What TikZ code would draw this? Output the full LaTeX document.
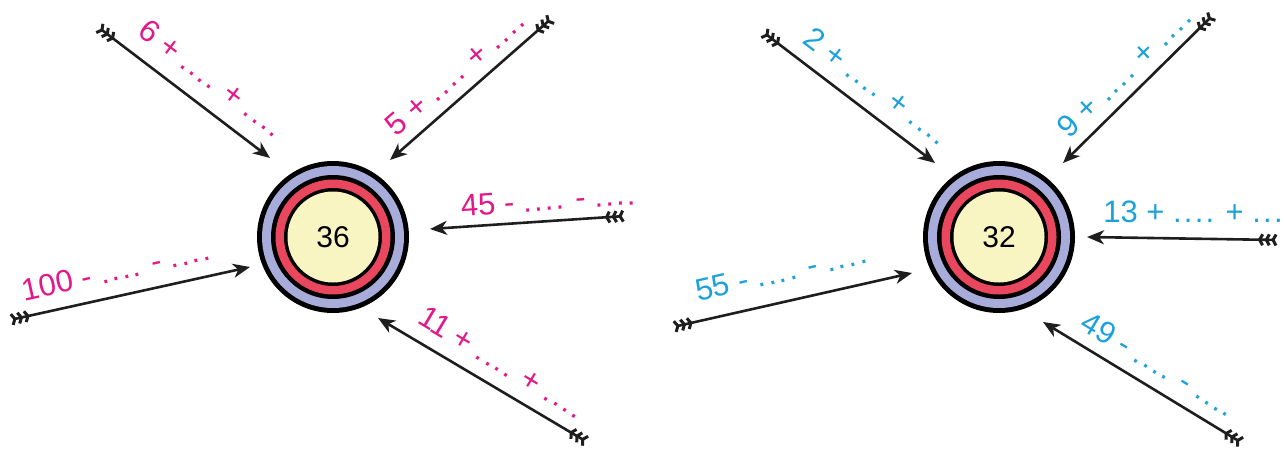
\documentclass[tikz,border=0pt]{standalone}
\usepackage{fontspec}
\setmainfont{Liberation Sans}
\usetikzlibrary{arrows.meta}
\definecolor{mag}{HTML}{E2188A}
\definecolor{cyn}{HTML}{1DA1DB}
\definecolor{ringblue}{HTML}{A8ACDB}
\definecolor{ringred}{HTML}{E8475D}
\definecolor{yel}{HTML}{F9F5C3}
\definecolor{shaft}{HTML}{1E1E1E}
\newcommand\dq{.\kern2.2pt.\kern2.2pt.\kern2.2pt.}
\newcommand\dt{.\kern2.2pt.\kern2.2pt.}
\begin{document}
\begin{tikzpicture}[x=1pt,y=-1pt,
  conn/.style={line width=2.6pt, draw=shaft,
    arrows={Straight Barb[reversed,length=3pt,width=11pt,line width=3pt,sep=0.5pt]Straight Barb[reversed,length=3pt,width=11pt,line width=3pt,sep=0.5pt]Straight Barb[reversed,length=3pt,width=11pt,line width=3pt,sep=0.5pt]-Stealth[length=17pt,width=14pt,inset=5pt]}},
  lab/.style={font=\fontsize{31}{36}\selectfont, inner sep=0pt},
  labm/.style={lab, text=mag},
  labc/.style={lab, text=cyn},
  target/.style={circle, inner sep=0pt, minimum size=152pt, fill=black,
    font=\fontsize{30}{34}\selectfont,
    path picture={
      \fill[ringblue] (path picture bounding box.center) circle (71pt);
      \fill[black] (path picture bounding box.center) circle (62pt);
      \fill[ringred] (path picture bounding box.center) circle (57.5pt);
      \fill[black] (path picture bounding box.center) circle (49pt);
      \fill[yel] (path picture bounding box.center) circle (45.5pt);
    }},
]
\useasboundingbox (0,0) rectangle (1284,450);

% targets
\node[target] (c1) at (333,237) {36};
\node[target] (c2) at (999,237) {32};

% left coordinates
\coordinate (l1t) at (98,27);   \coordinate (l1h) at (270,158);
\coordinate (l2t) at (552,18);  \coordinate (l2h) at (390,160);
\coordinate (l3t) at (625,216); \coordinate (l3h) at (430,229);
\coordinate (l4t) at (10,320);  \coordinate (l4h) at (250,267);
\coordinate (l5t) at (587,442); \coordinate (l5h) at (378,318);
% right coordinates
\coordinate (r1t) at (763,32);   \coordinate (r1h) at (935,163);
\coordinate (r2t) at (1213,15);  \coordinate (r2h) at (1063,163);
\coordinate (r3t) at (1278,240); \coordinate (r3h) at (1087,237);
\coordinate (r4t) at (673,327);  \coordinate (r4h) at (912,273);
\coordinate (r5t) at (1242,443); \coordinate (r5h) at (1043,322);

\foreach \a in {l1,l2,l3,l4,l5,r1,r2,r3,r4,r5}
  \draw[conn] (\a t) -- (\a h);

% labels
\node[labm, rotate=-37]  (t1) at (212,78)  {6 + \dq{} + \dq};
\node[labm, rotate=41]   (t2) at (455,73)  {5 + \dq{} + \dq};
\node[labm, rotate=4]    (t3) at (548,200) {45 - \dq{} - \dq};
\node[labm, rotate=12.5] (t4) at (116,270) {100 - \dq{} - \dq};
\node[labm, rotate=-31]  (t5) at (502,362) {11 + \dq{} + \dq};

\node[labc, rotate=-37]  (u1) at (877,86)  {2 + \dq{} + \dq};
\node[labc, rotate=44]   (u2) at (1124,72) {9 + \dq{} + \dq};
\node[labc]              (u3) at (1193,212) {13 + \dq{} + \dt};
\node[labc, rotate=12.7] (u4) at (781,272) {55 - \dq{} - \dq};
\node[labc, rotate=-31]  (u5) at (1159,364) {49 - \dq{} - \dq};
\end{tikzpicture}
\end{document}
